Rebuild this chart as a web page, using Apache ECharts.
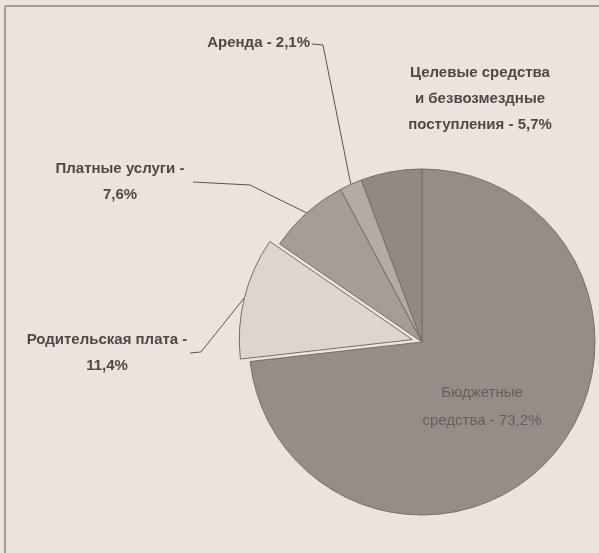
<!DOCTYPE html>
<html>
<head>
<meta charset="utf-8">
<script src="https://cdn.jsdelivr.net/npm/echarts@6/dist/echarts.min.js"></script>
<style>
html,body{margin:0;padding:0;background:#ece3dd;}
#c{width:599px;height:553px;}
</style>
</head>
<body>
<div id="c"></div>
<script>
// Data
const categories = ['Бюджетные средства', 'Родительская плата', 'Платные услуги', 'Аренда', 'Целевые средства и безвозмездные поступления'];
const values = [73.2, 11.4, 7.6, 2.1, 5.7];
const labelTexts = [
  'Бюджетные\nсредства - 73,2%',
  'Родительская плата -\n11,4%',
  'Платные услуги -\n7,6%',
  'Аренда - 2,1%',
  'Целевые средства\nи безвозмездные\nпоступления - 5,7%'
];
const sliceColors = ['#958d88', '#ddd5d0', '#a59d98', '#b3aba6', '#918984'];
const explodedIndex = 1;

// Label placement (layout only)
const labelPlace = [
  {x: 482, y: 407, align: 'center', line: null},
  {x: 107, y: 353, align: 'center', line: [[201, 352], [190, 353]]},
  {x: 120, y: 182, align: 'center', line: [[250, 185], [193, 182]]},
  {x: 310, y: 43, align: 'right', line: [[323, 45], [312, 44]]},
  {x: 480, y: 99, align: 'center', line: null}
];

const C = [422, 342], R = 173, OFFSET = 10;
// direction of exploded slice (from data)
const total = values.reduce((a, b) => a + b, 0);
const before = values.slice(0, explodedIndex).reduce((a, b) => a + b, 0);
const midDeg = (before + values[explodedIndex] / 2) / total * 360;
const midRad = midDeg * Math.PI / 180;
const C2 = [C[0] + OFFSET * Math.sin(midRad), C[1] - OFFSET * Math.cos(midRad)];

const baseLabel = {
  show: true,
  position: 'outside',
  formatter: p => labelTexts[p.dataIndex],
  fontFamily: 'Liberation Sans, Arial, sans-serif',
  fontWeight: 'bold',
  fontSize: 15,
  color: '#4f4844',
  lineHeight: 26
};
const labelLayoutFn = function (p) {
  const lp = labelPlace[p.dataIndex];
  const res = {x: lp.x, y: lp.y, align: lp.align, verticalAlign: 'middle'};
  if (lp.line && p.labelLinePoints) {
    res.labelLinePoints = [p.labelLinePoints[0], lp.line[0], lp.line[1]];
  }
  return res;
};

function makeData(visibleFn) {
  return categories.map((n, i) => {
    const vis = visibleFn(i);
    const item = {
      name: n,
      value: values[i],
      itemStyle: vis ? {color: sliceColors[i]} : {color: 'rgba(0,0,0,0)', borderWidth: 0},
      label: vis ? {} : {show: false},
      labelLine: {show: vis && !!labelPlace[i].line}
    };
    if (vis && i === 0) {
      item.label = {fontWeight: 'normal', color: '#655e59', fontSize: 15, lineHeight: 28};
    }
    return item;
  });
}

const seriesCommon = {
  type: 'pie',
  radius: [0, R],
  startAngle: 90,
  clockwise: true,
  avoidLabelOverlap: false,
  silent: true,
  itemStyle: {borderColor: '#756e69', borderWidth: 1},
  emphasis: {disabled: true},
  label: baseLabel,
  labelLine: {
    show: true, length: 20, length2: 20, smooth: false,
    lineStyle: {color: '#5a534f', width: 1}
  },
  labelLayout: labelLayoutFn
};

const chart = echarts.init(document.getElementById('c'), null, {renderer: 'canvas'});
chart.setOption({
  backgroundColor: '#ece3dd',
  animation: false,
  graphic: [
    {type: 'line', shape: {x1: 5, y1: 6, x2: 599, y2: 6}, style: {stroke: '#8b847f', lineWidth: 1.5}},
    {type: 'line', shape: {x1: 5, y1: 6, x2: 5, y2: 553}, style: {stroke: '#a39c97', lineWidth: 2}}
  ],
  series: [
    Object.assign({}, seriesCommon, {
      center: C,
      data: makeData(i => i !== explodedIndex)
    }),
    Object.assign({}, seriesCommon, {
      center: C2,
      data: makeData(i => i === explodedIndex)
    })
  ]
});
</script>
</body>
</html>
